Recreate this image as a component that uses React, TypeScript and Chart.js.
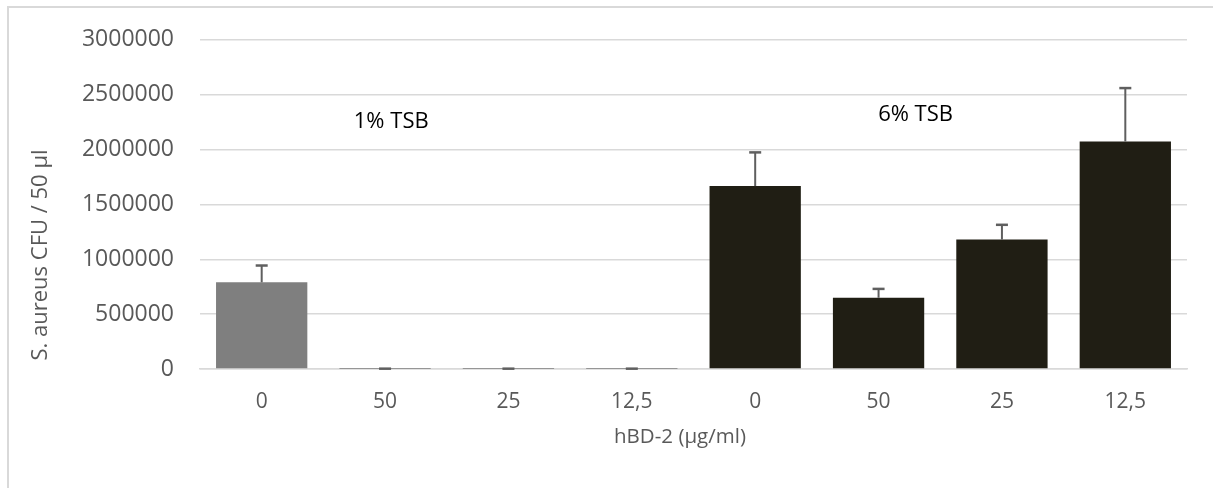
import React, { useEffect, useRef } from "react";
import { Chart, registerables } from "chart.js";

Chart.register(...registerables);

const categories = ["0", "50", "25", "12,5", "0", "50", "25", "12,5"];
const cfuValues = [790000, 100, 100, 100, 1667000, 649000, 1179000, 2073000];
const cfuErrors = [153000, 3000, 3000, 3000, 307000, 81000, 135000, 487000];
const barColors = ["#7f7f7f", "#7f7f7f", "#7f7f7f", "#7f7f7f", "#201e14", "#201e14", "#201e14", "#201e14"];
const groupLabels = ["1% TSB", "6% TSB"];
const groupLabelX = [1.05, 5.3];
const groupLabelY = [2255000, 2315000];
const yTickMax = 3000000;
const yTickStep = 500000;
const yTitle = "S. aureus CFU / 50 µl";
const xTitle = "hBD-2 (µg/ml)";

const FONT = "'Open Sans', sans-serif";

const errorBarPlugin = {
  id: "errorBars",
  afterDatasetsDraw(chart: any) {
    const ctx = chart.ctx;
    const meta = chart.getDatasetMeta(0);
    const y = chart.scales.y;
    ctx.save();
    ctx.strokeStyle = "#5f5f5f";
    meta.data.forEach((bar: any, i: number) => {
      const top = y.getPixelForValue(cfuValues[i] + cfuErrors[i]);
      const base = y.getPixelForValue(cfuValues[i]);
      ctx.lineWidth = 2;
      ctx.beginPath();
      ctx.moveTo(bar.x, base);
      ctx.lineTo(bar.x, top);
      ctx.stroke();
      ctx.lineWidth = 2.5;
      ctx.beginPath();
      ctx.moveTo(bar.x - 6, top);
      ctx.lineTo(bar.x + 6, top);
      ctx.stroke();
    });
    ctx.restore();
  },
};

const textPlugin = {
  id: "texts",
  afterDraw(chart: any) {
    const ctx = chart.ctx;
    const x = chart.scales.x;
    const y = chart.scales.y;
    ctx.save();
    ctx.textAlign = "center";
    ctx.textBaseline = "middle";
    ctx.fillStyle = "#000000";
    ctx.font = `22px ${FONT}`;
    groupLabels.forEach((t, i) => {
      ctx.fillText(t, x.getPixelForValue(groupLabelX[i]), y.getPixelForValue(groupLabelY[i]));
    });
    ctx.fillStyle = "#595959";
    ctx.font = `20.5px ${FONT}`;
    ctx.fillText(xTitle, 680, 437);
    ctx.font = `22px ${FONT}`;
    ctx.translate(41, 255);
    ctx.rotate(-Math.PI / 2);
    ctx.fillText(yTitle, 0, 0);
    ctx.restore();
  },
};

export default function App() {
  const ref = useRef<HTMLCanvasElement>(null);
  useEffect(() => {
    if (!ref.current) return;
    const chart = new Chart(ref.current, {
      type: "bar",
      data: {
        labels: categories,
        datasets: [
          {
            data: cfuValues,
            backgroundColor: barColors,
            borderWidth: 0,
            barPercentage: 0.74,
            categoryPercentage: 1,
          },
        ],
      },
      options: {
        animation: false,
        responsive: false,
        layout: { padding: { top: 37, right: 26, left: 0, bottom: 0 } },
        plugins: { legend: { display: false }, tooltip: { enabled: false } },
        scales: {
          x: {
            grid: { display: false, drawTicks: false },
            border: { display: true, color: "#d9d9d9", width: 1.5 },
            ticks: { color: "#595959", font: { family: FONT, size: 21 }, padding: 20 },
            afterFit(scale: any) {
              scale.height = 119;
            },
          },
          y: {
            min: 0,
            max: yTickMax,
            grid: { color: "#d9d9d9", lineWidth: 1.5, drawTicks: false },
            border: { display: false },
            ticks: {
              stepSize: yTickStep,
              color: "#595959",
              font: { family: FONT, size: 23 },
              padding: 26,
              callback: (v: any) => String(v),
            },
            afterFit(scale: any) {
              scale.width = 200;
            },
          },
        },
      },
      plugins: [errorBarPlugin, textPlugin],
    });
    return () => chart.destroy();
  }, []);
  return (
    <div style={{ position: "fixed", left: 0, top: 0, width: 1213, height: 488, background: "#fff" }}>
      <canvas ref={ref} width={1213} height={488} style={{ position: "absolute", left: 0, top: 0 }} />
      <div
        style={{
          position: "absolute",
          left: 7,
          top: 6,
          width: 1206,
          height: 482,
          borderLeft: "2px solid #d9d9d9",
          borderTop: "2px solid #d9d9d9",
          boxSizing: "border-box",
          pointerEvents: "none",
        }}
      />
    </div>
  );
}
